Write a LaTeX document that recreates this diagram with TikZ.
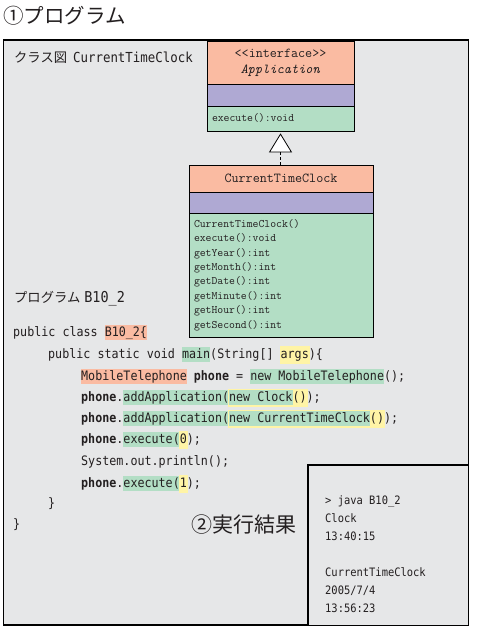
\documentclass[tikz,border=0pt]{standalone}
\usepackage{fontspec}
\newfontfamily\jp{Noto Sans CJK JP}
\newfontfamily\code[FakeStretch=0.9]{DejaVu Sans Mono}
\usetikzlibrary{arrows.meta}
\definecolor{bg}{HTML}{E6E7E8}
\definecolor{hor}{HTML}{FABBA2}
\definecolor{hpu}{HTML}{AFA9D3}
\definecolor{hgr}{HTML}{B3DEC5}
\definecolor{hye}{HTML}{FFF4A6}
\definecolor{ink}{HTML}{231F20}
\newlength\hlw
\newcommand\hl[2]{\settowidth{\hlw}{#2}\rlap{\textcolor{#1}{\rule[-3.5pt]{\hlw}{15pt}}}#2}
\newcommand\hy[1]{\settowidth{\hlw}{#1}\rlap{\hspace{-1pt}\textcolor{hye}{\rule[-5pt]{\dimexpr\hlw+2pt\relax}{18pt}}}#1}
\begin{document}
\begin{tikzpicture}[x=1pt,y=-1pt,
  codeline/.style={anchor=base west, inner sep=0pt, text=ink, font=\code\fontsize{13}{15}\selectfont},
  outline/.style={anchor=base west, inner sep=0pt, text=ink, font=\code\fontsize{11.6}{14}\selectfont},
  umlbox/.style={draw=black, line width=0.7pt, inner sep=0pt, text=ink, font=\ttfamily\fontsize{13.7}{16}\selectfont, align=center},
  umlops/.style={umlbox, font=\ttfamily\fontsize{11.4}{14.4}\selectfont, align=left, text width=#1, inner xsep=5pt},
  jplabel/.style={anchor=west, inner sep=0pt, text=ink},
]
\useasboundingbox (0,0) rectangle (478,627);
% outer frame
\draw[line width=1.2pt, fill=bg] (3.5,40) rectangle (468.5,625);
% heading
\node[jplabel, font=\jp\fontsize{20.5}{24}\selectfont] (h1) at (3,15.5) {①プログラム};
\node[jplabel] (cls) at (14,58) {{\jp\fontsize{13.3}{16}\selectfont クラス図}\hspace{6pt}{\code\fontsize{13.8}{16}\selectfont CurrentTimeClock}};
\node[jplabel] (prg) at (14,299) {{\jp\fontsize{13.3}{16}\selectfont プログラム}\hspace{4pt}{\code\fontsize{15}{16}\selectfont B10\_2}};

% interface
\node[umlbox, fill=hor, minimum width=147pt, minimum height=43pt] (ifn) at (280.5,62.5) {\textless\textless interface\textgreater\textgreater\\\textit{Application}};
\node[umlbox, fill=hpu, minimum width=147pt, minimum height=22pt] (ifa) at (280.5,95) {};
\node[umlops=137pt, fill=hgr, minimum width=147pt, minimum height=25pt] (ifo) at (280.5,118.5) {execute():void};

% CurrentTimeClock
\node[umlbox, fill=hor, minimum width=184pt, minimum height=27pt] (ctn) at (281,178.5) {CurrentTimeClock};
\node[umlbox, fill=hpu, minimum width=184pt, minimum height=21pt] (cta) at (281,202.5) {};
\node[umlops=174pt, fill=hgr, minimum width=184pt, minimum height=124pt] (cto) at (281,275) {CurrentTimeClock()\\execute():void\\getYear():int\\getMonth():int\\getDate():int\\getMinute():int\\getHour():int\\getSecond():int};

% realization
\draw[line width=0.7pt, dash pattern=on 3pt off 2pt, -{Triangle[open, fill=white, length=19pt, width=23pt, line width=0.8pt]}, shorten >=2pt] (ctn.north -| ifo.south) -- (ifo.south);

% code
\node[codeline] (l1) at (13,336.5) {public class \hl{hor}{B10\_2\{}};
\node[codeline] (l2) at (48,358.5) {public static void \hl{hgr}{main}(String[] \hy{args})\{};
\node[codeline] (l3) at (81,380.5) {\hl{hor}{MobileTelephone} \textbf{phone} = \hl{hgr}{new MobileTelephone}();};
\node[codeline] (l4) at (81,401.5) {\textbf{phone}.\hl{hgr}{addApplication(}\hy{\hl{hgr}{new Clock}()});};
\node[codeline] (l5) at (81,422.5) {\textbf{phone}.\hl{hgr}{addApplication(}\hy{\hl{hgr}{new CurrentTimeClock}()});};
\node[codeline] (l6) at (81,443.5) {\textbf{phone}.\hl{hgr}{execute(}\hy{0});};
\node[codeline] (l7) at (81,465.5) {System.out.println();};
\node[codeline] (l8) at (81,487.5) {\textbf{phone}.\hl{hgr}{execute(}\hy{1});};
\node[codeline] (l9) at (48,507.5) {\}};
\node[codeline] (l10) at (13,528.5) {\}};

% result
\draw[line width=1.2pt, fill=bg] (308,625) -- (308,465) -- (468.5,465) -- (468.5,625);
\node[jplabel, font=\jp\fontsize{21}{24}\selectfont] (h2) at (191,525) {②実行結果};
\node[outline] (r1) at (325,504) {> java B10\_2};
\node[outline] (r2) at (325,522) {Clock};
\node[outline] (r3) at (325,540) {13:40:15};
\node[outline] (r4) at (325,576) {CurrentTimeClock};
\node[outline] (r5) at (325,594) {2005/7/4};
\node[outline] (r6) at (325,612) {13:56:23};
\end{tikzpicture}
\end{document}
